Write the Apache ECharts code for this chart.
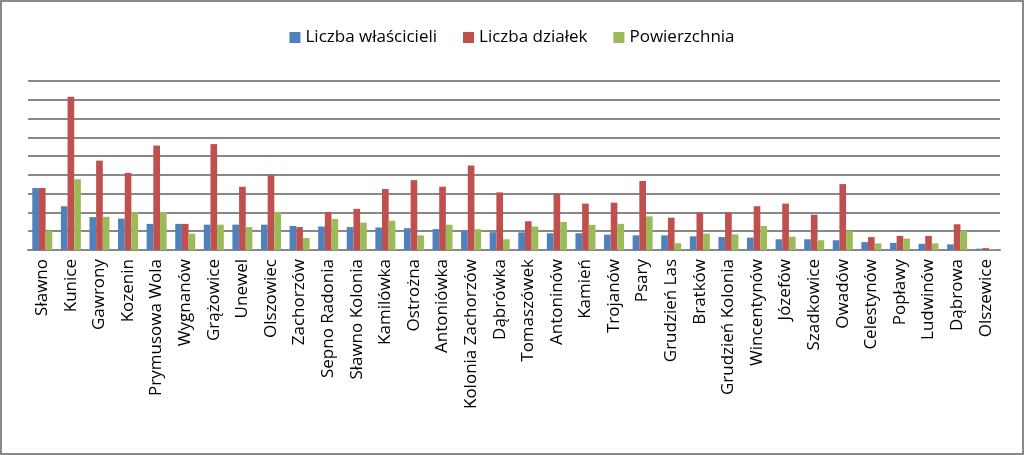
<!DOCTYPE html>
<html><head><meta charset="utf-8">
<script src="https://cdn.jsdelivr.net/npm/echarts@6/dist/echarts.min.js"></script>
<style>html,body{margin:0;padding:0;background:#fff}#c{width:1024px;height:455px;box-sizing:border-box;border:2px solid #888}</style>
</head><body><div id="c"></div>
<script>
const categories=["Sławno","Kunice","Gawrony","Kozenin","Prymusowa Wola","Wygnanów","Grążowice","Unewel","Olszowiec","Zachorzów","Sepno Radonia","Sławno Kolonia","Kamilówka","Ostrożna","Antoniówka","Kolonia Zachorzów","Dąbrówka","Tomaszówek","Antoninów","Kamień","Trojanów","Psary","Grudzień Las","Bratków","Grudzień Kolonia","Wincentynów","Józefów","Szadkowice","Owadów","Celestynów","Popławy","Ludwinów","Dąbrowa","Olszewice"];
const owners=[33,23.3,17.5,16.7,13.9,13.9,13.5,13.5,13.5,12.8,12.5,12.2,12,11.6,11.1,10.2,9.5,9.4,8.9,8.9,8.2,7.8,7.8,7.3,6.9,6.6,5.7,5.7,5.2,4.2,3.8,3.3,3,0.7];
const plots=[33,81.6,47.6,41.1,55.6,13.9,56.4,33.7,39.9,12.2,20.3,21.9,32.5,37.2,33.7,45,30.7,15.3,30,24.7,25.2,36.8,17.2,20,20,23.3,24.7,18.8,35.1,6.9,7.5,7.5,13.7,1];
const area=[10.2,37.7,17.7,20.3,20.3,8.7,13.5,12.2,20.3,6.4,16.5,14.6,15.6,7.8,13.5,11.1,5.7,12.5,14.9,13.4,13.9,17.9,3.6,8.7,8.3,12.8,7.1,5.2,10.2,3.5,6.1,3.5,10.4,0.3];
const names=["Liczba właścicieli","Liczba działek","Powierzchnia"];
const chart=echarts.init(document.getElementById('c'));
const mk=(n,d,c)=>({name:n,type:'bar',data:d,itemStyle:{color:c},barGap:'0%',barCategoryGap:'30%'});
chart.setOption({
 animation:false,
 legend:{top:22,left:'center',itemWidth:11,itemHeight:11,itemGap:26,icon:'rect',textStyle:{fontFamily:'Open Sans',fontSize:17,color:'#000'}},
 grid:{left:26,right:22,top:79,bottom:203,containLabel:false},
 xAxis:{type:'category',data:categories,axisLine:{lineStyle:{color:'#888',width:2}},axisTick:{lineStyle:{color:'#888'},length:6},
   axisLabel:{rotate:90,interval:0,fontFamily:'Open Sans',fontSize:17,color:'#000',margin:9}},
 yAxis:{type:'value',min:0,max:90,interval:10,axisLabel:{show:false},axisLine:{show:false},axisTick:{show:false},splitLine:{lineStyle:{color:'#888',width:2}}},
 series:[mk(names[0],owners,'#4f81bd'),mk(names[1],plots,'#c0504d'),mk(names[2],area,'#9bbb59')]
});
</script></body></html>
